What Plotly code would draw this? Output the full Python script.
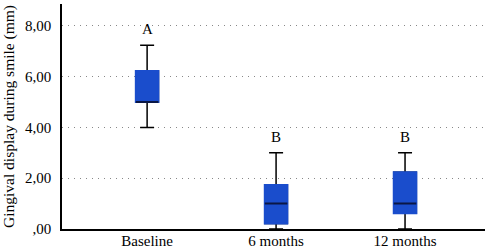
import plotly.graph_objects as go

categories = ["Baseline", "6 months", "12 months"]
q1 = [5.0, 0.22, 0.62]
median = [5.0, 1.0, 1.0]
q3 = [6.22, 1.73, 2.23]
lower = [4.0, 0.0, 0.0]
upper = [7.24, 3.0, 3.0]
letters = ["A", "B", "B"]
ytick_vals = [0, 2, 4, 6, 8]
ytick_text = [",00", "2,00", "4,00", "6,00", "8,00"]

FONT = "Liberation Serif"
BLUE = "#1a4dcc"
NAVY = "#0a1745"

fig = go.Figure()
# whiskers
fig.add_trace(go.Box(x=categories, q1=q1, median=median, q3=q3,
                     lowerfence=lower, upperfence=upper,
                     line=dict(color="black", width=1.5),
                     fillcolor="rgba(0,0,0,0)", whiskerwidth=0.62,
                     boxpoints=False, showlegend=False, hoverinfo="skip"))
# filled box
fig.add_trace(go.Box(x=categories, q1=q1, median=q3, q3=q3,
                     lowerfence=q1, upperfence=q3,
                     line=dict(color=BLUE, width=2),
                     fillcolor=BLUE, whiskerwidth=0,
                     boxpoints=False, showlegend=False, hoverinfo="skip"))
# median
fig.add_trace(go.Box(x=categories, q1=median, median=median, q3=median,
                     lowerfence=median, upperfence=median,
                     line=dict(color=NAVY, width=2),
                     fillcolor=NAVY, whiskerwidth=0,
                     boxpoints=False, showlegend=False, hoverinfo="skip"))

for c, u, t in zip(categories, upper, letters):
    fig.add_annotation(x=c, y=u, text=t, showarrow=False, yshift=16,
                       yanchor="middle", font=dict(family=FONT, size=15, color="black"))

fig.update_layout(
    width=485, height=250,
    margin=dict(l=62, r=0, t=4, b=21),
    paper_bgcolor="white", plot_bgcolor="white",
    boxmode="overlay", boxgap=0.75,
    font=dict(family=FONT, size=15, color="black"),
    showlegend=False,
)
fig.update_xaxes(range=[-0.66, 2.62], showline=True, linecolor="black", linewidth=1.5,
                 showgrid=False, ticks="", tickfont=dict(size=15), zeroline=False,
                 ticklabelstandoff=-3, automargin=False)
fig.update_yaxes(range=[0, 8.86], tickvals=ytick_vals, ticktext=ytick_text,
                 showline=True, linecolor="black", linewidth=1.5,
                 showgrid=True, gridcolor="#888888", gridwidth=1, griddash="1px,5px",
                 ticks="", tickfont=dict(size=15), ticklabelstandoff=6, zeroline=False,
                 automargin=False,
                 title=dict(text="Gingival display during smile (mm)",
                            font=dict(size=15.5), standoff=8))

fig.write_html("out.html", config={"displayModeBar": False},
               post_script="document.body.style.margin='0';document.body.style.padding='0';")
